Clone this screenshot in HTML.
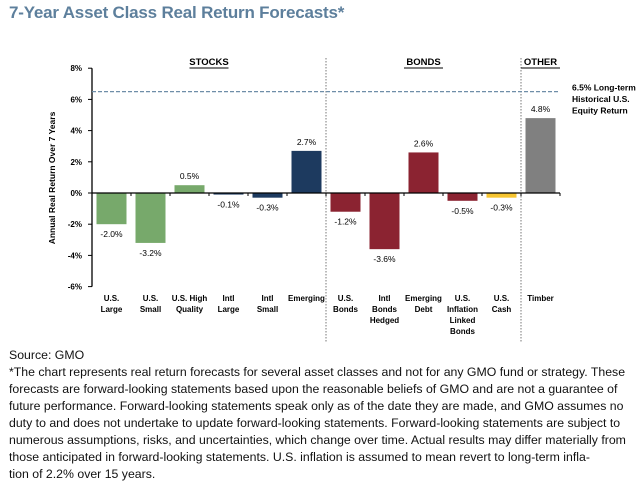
<!DOCTYPE html>
<html><head><meta charset="utf-8"><style>
body{margin:0;width:641px;height:481px;background:#fff;font-family:"Liberation Sans",sans-serif;overflow:hidden;position:relative}
#title{position:absolute;left:9px;top:3px;font-size:17px;font-weight:bold;color:#5d7f9c;letter-spacing:-0.2px}
#foot{position:absolute;left:9px;top:347px;width:628px;font-size:12.3px;line-height:17px;color:#111}
svg text{font-family:"Liberation Sans",sans-serif}
</style></head><body>
<div id="title">7-Year Asset Class Real Return Forecasts*</div>
<svg id="chart" width="641" height="345" style="position:absolute;left:0;top:0"></svg>
<div id="foot">Source: GMO<br>*The chart represents real return forecasts for several asset classes and not for any GMO fund or strategy. These forecasts are forward-looking statements based upon the reasonable beliefs of GMO and are not a guarantee of future performance. Forward-looking statements speak only as of the date they are made, and GMO assumes no duty to and does not undertake to update forward-looking statements. Forward-looking statements are subject to numerous assumptions, risks, and uncertainties, which change over time. Actual results may differ materially from those anticipated in forward-looking statements. U.S. inflation is assumed to mean revert to long-term infla-<br>tion of 2.2% over 15 years.</div>
<script>
const categories=[["U.S.","Large"],["U.S.","Small"],["U.S. High","Quality"],["Intl","Large"],["Intl","Small"],["Emerging"],["U.S.","Bonds"],["Intl","Bonds","Hedged"],["Emerging","Debt"],["U.S.","Inflation","Linked","Bonds"],["U.S.","Cash"],["Timber"]];
const values=[-2.0,-3.2,0.5,-0.1,-0.3,2.7,-1.2,-3.6,2.6,-0.5,-0.3,4.8];
const labels=["-2.0%","-3.2%","0.5%","-0.1%","-0.3%","2.7%","-1.2%","-3.6%","2.6%","-0.5%","-0.3%","4.8%"];
const colors=["#77a96b","#77a96b","#77a96b","#1d3a5f","#1d3a5f","#1d3a5f","#8b2331","#8b2331","#8b2331","#8b2331","#f7c531","#808080"];
const ticks=[8,6,4,2,0,-2,-4,-6];
const refValue=6.5;
const svg=document.getElementById('chart');
const NS='http://www.w3.org/2000/svg';
const x0=92,colW=39,barW=30;
const y=v=>193-v*15.6;
const xc=i=>x0+colW*i+colW/2;
function mk(t,a,txt){const e=document.createElementNS(NS,t);for(const k in a)e.setAttribute(k,a[k]);if(txt!==undefined)e.textContent=txt;svg.appendChild(e);return e;}
let e=mk('line',{x1:x0,x2:x0,y1:y(8),y2:y(-6),stroke:'#000','stroke-width':1.3});

ticks.forEach(t=>{
 mk('line',{x1:x0-4,x2:x0,y1:y(t),y2:y(t),stroke:'#000'});
 let l=mk('text',{x:x0-10,y:y(t)+3,'font-size':8,'font-weight':'bold','text-anchor':'end'},t+'%');
 
});
e=mk('text',{x:0,y:0,'font-size':8.5,'font-weight':'bold','text-anchor':'middle',transform:'translate(55,178) rotate(-90)'},'Annual Real Return Over 7 Years');

[6,11].forEach(i=>{let d=mk('line',{x1:x0+colW*i,x2:x0+colW*i,y1:58,y2:342,stroke:'#777','stroke-dasharray':'1.5,1.5'});
});
[["STOCKS",x0+colW*3,30],["BONDS",x0+colW*8.5,30],["OTHER",x0+colW*11.5,30]].forEach(g=>{
 let t=mk('text',{x:g[1],y:65,'font-size':9.5,'font-weight':'bold','text-anchor':'middle'},g[0]);
 
 mk('line',{x1:g[1]-g[2]*0.65,x2:g[1]+g[2]*0.65,y1:68,y2:68,stroke:'#000','stroke-width':1});
});
e=mk('line',{x1:x0,x2:x0+colW*12,y1:y(refValue),y2:y(refValue),stroke:'#6f8ea8','stroke-width':1.2,'stroke-dasharray':'4,2'});

["6.5% Long-term","Historical U.S.","Equity Return"].forEach((s,k)=>{let t=mk('text',{x:572,y:y(refValue)-1+k*11.5,'font-size':8.5,'font-weight':'bold'},s);
});
values.forEach((v,i)=>{
 const top=Math.min(y(v),y(0)),h=Math.abs(y(v)-y(0));
 let r=mk('rect',{x:xc(i)-barW/2,y:top,width:barW,height:Math.max(h,1.5),fill:colors[i]});
 
 
 let ly=v>=0?y(v)-6:y(v)+13;
 let t=mk('text',{x:xc(i),y:ly,'font-size':8.5,'text-anchor':'middle'},labels[i]);
 
 categories[i].forEach((s,k)=>{let c=mk('text',{x:xc(i),y:301+k*11,'font-size':8,'font-weight':'bold','text-anchor':'middle'},s);
 });
});
e=mk('line',{x1:x0,x2:x0+colW*12,y1:y(0),y2:y(0),stroke:'#000','stroke-width':1.3});

for(let i=0;i<=12;i++)mk('line',{x1:x0+colW*i,x2:x0+colW*i,y1:y(0),y2:y(0)+3,stroke:'#000'});
</script>
</body></html>
